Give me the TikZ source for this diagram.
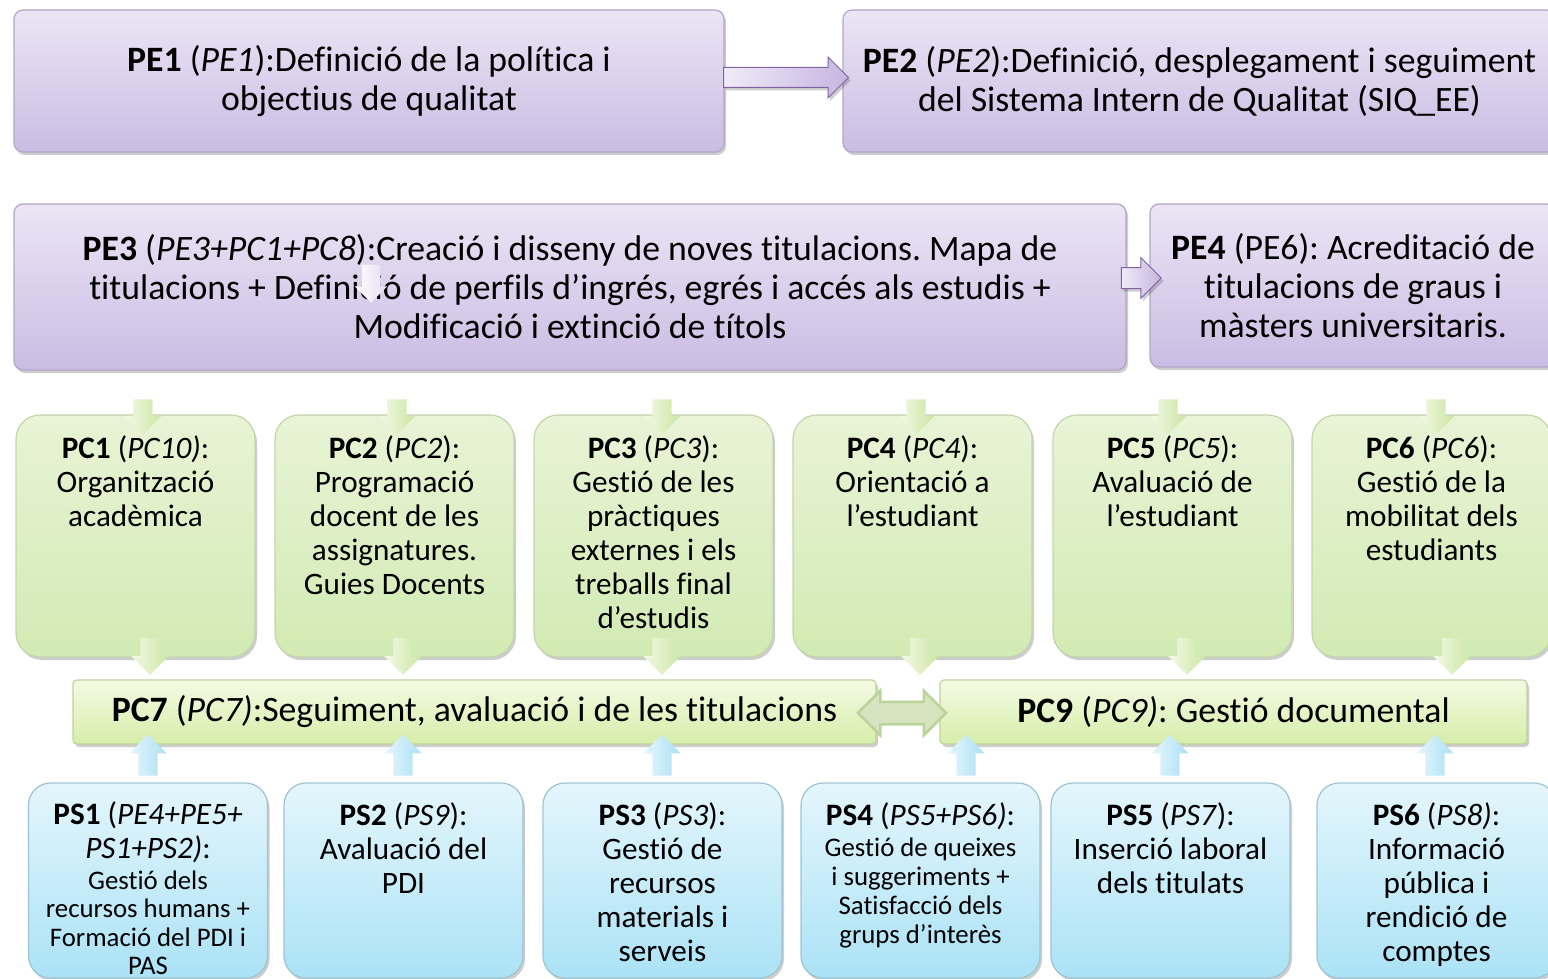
\documentclass[tikz,border=0pt]{standalone}
\usepackage{fontspec}
\setmainfont{Carlito}[Ligatures=NoCommon]
\frenchspacing
\usetikzlibrary{positioning,shapes.arrows,shadows}
\definecolor{peTop}{HTML}{EBE5F5}
\definecolor{peBot}{HTML}{CBBCE3}
\definecolor{peLine}{HTML}{B3A6C7}
\definecolor{pcTop}{HTML}{E8F4D6}
\definecolor{pcBot}{HTML}{D2EAB3}
\definecolor{pcLine}{HTML}{C3D5AE}
\definecolor{barTop}{HTML}{F4FAE4}
\definecolor{barBot}{HTML}{D6EEA9}
\definecolor{barLine}{HTML}{BFD39C}
\definecolor{psTop}{HTML}{E4F6FC}
\definecolor{psBot}{HTML}{ABE2F6}
\definecolor{psLine}{HTML}{9EC4D3}
\definecolor{paLine}{HTML}{8064A2}
\definecolor{paL}{HTML}{F0EBF7}
\definecolor{paR}{HTML}{C6B4E0}
\definecolor{gaL}{HTML}{F3F9E8}
\definecolor{gaR}{HTML}{CBE6A2}
\definecolor{baL}{HTML}{E6F6FC}
\definecolor{baR}{HTML}{ABE0F6}
\definecolor{dbFill}{HTML}{D6E4BF}
\definecolor{dbLine}{HTML}{BBD49B}
\newcommand{\smalltxt}{\fontsize{26.8}{29}\selectfont}
\begin{document}
\begin{tikzpicture}[
  x=1pt, y=-1pt,
  shdw/.style={drop shadow={shadow xshift=2pt, shadow yshift=-3pt, opacity=.28, fill=black!70}},
  pebox/.style={shdw, draw=peLine, line width=1.2pt, rounded corners=9pt, top color=peTop, bottom color=peBot,
    align=center, inner sep=0pt, font=\fontsize{35.7}{39}\selectfont},
  pcbox/.style={shdw, draw=pcLine, line width=1.2pt, rounded corners=24pt, top color=pcTop, bottom color=pcBot,
    minimum width=239pt, minimum height=242pt},
  psbox/.style={shdw, draw=psLine, line width=1.2pt, rounded corners=22pt, top color=psTop, bottom color=psBot,
    minimum width=239pt, minimum height=195pt},
  barbox/.style={shdw, draw=barLine, line width=1.2pt, rounded corners=4pt, top color=barTop, bottom color=barBot,
    minimum height=64pt, inner sep=0pt, font=\fontsize{35.7}{39}\selectfont},
  txt/.style={align=center, inner sep=0pt, font=\fontsize{31.2}{34}\selectfont},
  parr/.style={single arrow, shdw, draw=paLine, line width=1pt, left color=paL, right color=paR, inner xsep=0pt},
  garr/.style={single arrow, inner xsep=0pt, inner ysep=9.5pt, single arrow head extend=8.5pt,
    left color=gaL, right color=gaR},
  barr/.style={single arrow, rotate=90, minimum height=41pt, minimum width=37pt, inner xsep=0pt, inner ysep=9.5pt,
    single arrow head extend=9pt, left color=baL, right color=baR}
]
\path[use as bounding box, clip] (0,0) rectangle (1548,979);
% ---------------- strategic processes ----------------
\node[pebox, minimum width=710pt, minimum height=142pt] (pe1) at (369,81)
  {\textbf{PE1} (\textit{PE1}):Definició de la política i\\objectius de qualitat};
\node[pebox, minimum width=713pt, minimum height=142pt] (pe2) at (1199.5,81)
  {\textbf{PE2} (\textit{PE2}):Definició, desplegament i seguiment\\del Sistema Intern de Qualitat (SIQ\_EE)};
\node[pebox, minimum width=1112pt, minimum height=166pt] (pe3) at (570,287)
  {\textbf{PE3} (\textit{PE3+PC1+PC8}):Creació i disseny de noves titulacions. Mapa de\\
   titulacions + Definició de perfils d’ingrés, egrés i accés als estudis +\\
   Modificació i extinció de títols};
\node[pebox, minimum width=406pt, minimum height=163pt] (pe4) at (1353,285.5)
  {\textbf{PE4} (PE6): Acreditació de\\titulacions de graus i\\màsters universitaris.};
\node[parr, minimum height=125pt, minimum width=40pt, inner ysep=9.5pt, single arrow head extend=10.5pt] (a12) at (781,77.5) {};
\node[parr, minimum height=40pt, minimum width=40pt, inner ysep=10pt, single arrow head extend=10pt] (a34) at (1136,278) {};
\node[single arrow, rotate=-90, minimum height=38pt, minimum width=32pt, inner xsep=0pt, inner ysep=9pt,
  single arrow head extend=7pt, left color=white, right color=peTop!80!peBot] (ain) at (371,279) {};
% ---------------- key processes ----------------
\node[pcbox] (pc1) at (135.5,536) {};
\node[pcbox] (pc2) at (394.5,536) {};
\node[pcbox] (pc3) at (653.5,536) {};
\node[pcbox] (pc4) at (912.5,536) {};
\node[pcbox] (pc5) at (1172.5,536) {};
\node[pcbox] (pc6) at (1431.5,536) {};
\node[txt, below=21pt of pc1.north] (t1) {\textbf{PC1} (\textit{PC10)}:\\Organització\\acadèmica};
\node[txt, below=21pt of pc2.north] (t2) {\textbf{PC2} (\textit{PC2}):\\Programació\\docent de les\\assignatures.\\Guies Docents};
\node[txt, below=21pt of pc3.north] (t3) {\textbf{PC3} (\textit{PC3}):\\Gestió de les\\pràctiques\\externes i els\\treballs final\\d’estudis};
\node[txt, below=21pt of pc4.north] (t4) {\textbf{PC4} (\textit{PC4}):\\Orientació a\\l’estudiant};
\node[txt, below=21pt of pc5.north] (t5) {\textbf{PC5} (\textit{PC5}):\\Avaluació de\\l’estudiant};
\node[txt, below=21pt of pc6.north] (t6) {\textbf{PC6} (\textit{PC6}):\\Gestió de la\\mobilitat dels\\estudiants};
\node[garr, rotate=-90, minimum height=35pt, minimum width=36pt] (g1) at (143,412) {};
\node[garr, rotate=-90, minimum height=35pt, minimum width=36pt] (g2) at (397,412) {};
\node[garr, rotate=-90, minimum height=35pt, minimum width=36pt] (g3) at (662,412) {};
\node[garr, rotate=-90, minimum height=35pt, minimum width=36pt] (g4) at (916,412) {};
\node[garr, rotate=-90, minimum height=35pt, minimum width=36pt] (g5) at (1168,412) {};
\node[garr, rotate=-90, minimum height=35pt, minimum width=36pt] (g6) at (1436,412) {};
% ---------------- follow-up bars ----------------
\node[barbox, minimum width=803pt] (pc7) at (474.5,712)
  {\textbf{PC7} (\textit{PC7)}:Seguiment, avaluació i de les titulacions};
\node[barbox, minimum width=587pt] (pc9) at (1233.5,712)
  {\textbf{PC9} (\textit{PC9)}: Gestió documental};
\node[garr, rotate=-90, minimum height=37pt, minimum width=37pt, single arrow head extend=9pt] (h1) at (150,651.5) {};
\node[garr, rotate=-90, minimum height=37pt, minimum width=37pt, single arrow head extend=9pt] (h2) at (403,651.5) {};
\node[garr, rotate=-90, minimum height=37pt, minimum width=37pt, single arrow head extend=9pt] (h3) at (662,651.5) {};
\node[garr, rotate=-90, minimum height=37pt, minimum width=37pt, single arrow head extend=9pt] (h4) at (920,651.5) {};
\node[garr, rotate=-90, minimum height=37pt, minimum width=37pt, single arrow head extend=9pt] (h5) at (1187,651.5) {};
\node[garr, rotate=-90, minimum height=37pt, minimum width=37pt, single arrow head extend=9pt] (h6) at (1452,651.5) {};
\node[double arrow, draw=dbLine, line width=2.5pt, fill=dbFill, minimum height=88pt, minimum width=42pt,
  inner xsep=0pt, inner ysep=10pt, double arrow head extend=11pt] (d79) at (902,713) {};
% ---------------- support processes ----------------
\node[psbox] (ps1) at (148,880.5) {};
\node[psbox] (ps2) at (403.5,880.5) {};
\node[psbox] (ps3) at (662.5,880.5) {};
\node[psbox] (ps4) at (920.5,880.5) {};
\node[psbox] (ps5) at (1170.5,880.5) {};
\node[psbox] (ps6) at (1436.5,880.5) {};
\node[txt, below=19pt of ps1.north] (s1) {\textbf{PS1} (\textit{PE4+PE5+}\\\textit{PS1+PS2)}:\\[-3pt]
  \smalltxt Gestió dels\\[-5.5pt]\smalltxt recursos humans +\\[-5.5pt]
  \smalltxt Formació del PDI i\\[-6pt]\smalltxt PAS};
\node[txt, below=20pt of ps2.north] (s2) {\textbf{PS2} (\textit{PS9}):\\Avaluació del\\PDI};
\node[txt, below=20pt of ps3.north] (s3) {\textbf{PS3} (\textit{PS3}):\\Gestió de\\recursos\\materials i\\serveis};
\node[txt, below=20pt of ps4.north] (s4) {\textbf{PS4} (\textit{PS5+PS6)}:\\[-3pt]
  \smalltxt Gestió de queixes\\[-5pt]\smalltxt i suggeriments +\\[-5pt]
  \smalltxt Satisfacció dels\\[-5pt]\smalltxt grups d’interès};
\node[txt, below=20pt of ps5.north] (s5) {\textbf{PS5} (\textit{PS7}):\\Inserció laboral\\dels titulats};
\node[txt, below=20pt of ps6.north] (s6) {\textbf{PS6} (\textit{PS8)}:\\Informació\\pública i\\rendició de\\comptes};
\node[barr] (b1) at (148,760) {};
\node[barr] (b2) at (403,760) {};
\node[barr] (b3) at (662,760) {};
\node[barr] (b4) at (966,760) {};
\node[barr] (b5) at (1170,760) {};
\node[barr] (b6) at (1435,760) {};
\end{tikzpicture}
\end{document}
